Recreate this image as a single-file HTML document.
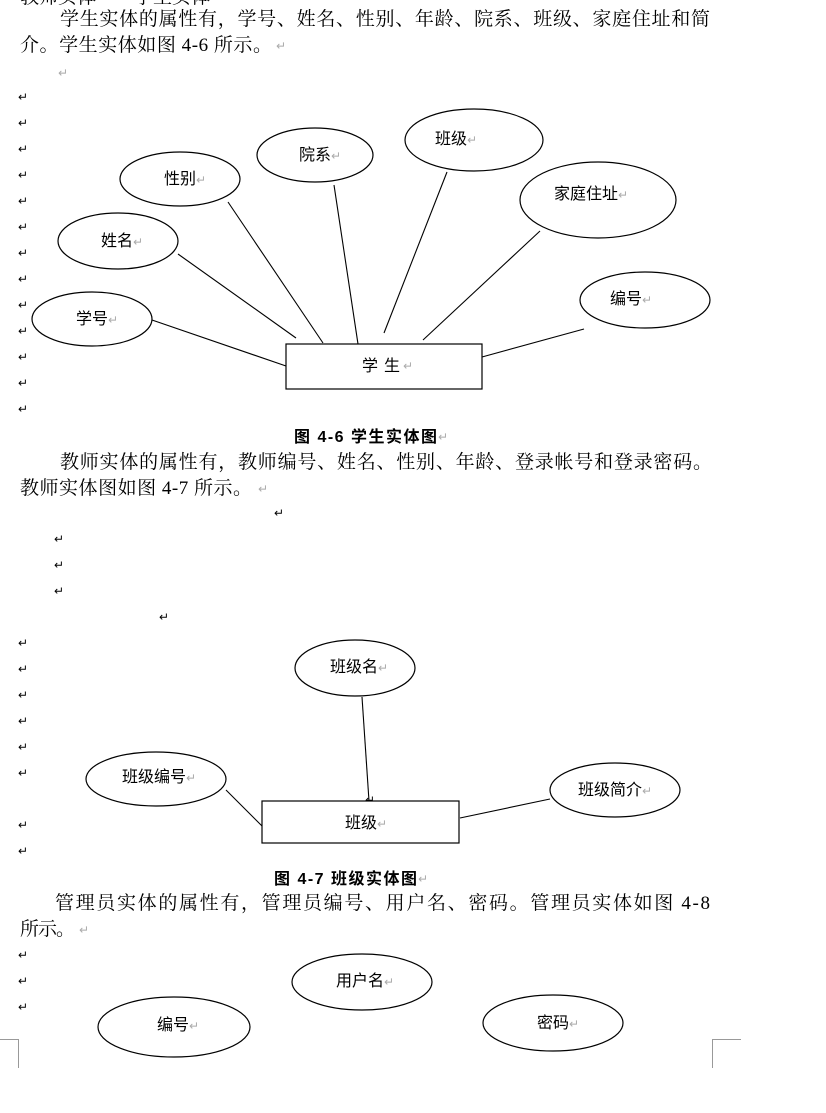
<!DOCTYPE html>
<html><head><meta charset="utf-8"><style>
html,body{margin:0;padding:0;background:#fff;width:826px;height:1113px;overflow:hidden}
svg{display:block}
text{font-family:"Liberation Serif","Noto Serif CJK SC","Noto Sans CJK SC",serif;fill:#000}
.p{font-size:19px}
.l{font-size:16px;font-family:"Liberation Sans","Noto Sans CJK SC",sans-serif}
.r{fill:#aaa;font-size:12px;font-family:"DejaVu Sans",sans-serif;font-weight:normal}
.c{font-size:16px;font-family:"Liberation Sans","Noto Sans CJK SC",sans-serif;font-weight:bold}
ellipse,rect{fill:#fff;stroke:#000;stroke-width:1.2}
line{stroke:#000;stroke-width:1.1}
.m{stroke:#999;stroke-width:1;fill:none}
</style></head><body>
<svg width="826" height="1113" viewBox="0 0 826 1113" xmlns="http://www.w3.org/2000/svg">
<text class="p" x="20" y="3">教师实体——学生实体</text>
<text class="p" x="60" y="25" textLength="650" lengthAdjust="spacing">学生实体的属性有，学号、姓名、性别、年龄、院系、班级、家庭住址和简</text>
<text class="p" x="20" y="51" textLength="252" lengthAdjust="spacing">介。学生实体如图 4-6 所示。</text><text class="r" x="276" y="50">↵</text>
<text class="r" x="58" y="77">↵</text>
<g class="r">
<text x="18" y="101">↵</text><text x="18" y="127">↵</text><text x="18" y="153">↵</text><text x="18" y="179">↵</text><text x="18" y="205">↵</text><text x="18" y="231">↵</text><text x="18" y="257">↵</text><text x="18" y="283">↵</text><text x="18" y="309">↵</text><text x="18" y="335">↵</text><text x="18" y="361">↵</text><text x="18" y="387">↵</text><text x="18" y="413">↵</text>
</g>
<line x1="152" y1="320" x2="286" y2="366"/>
<line x1="178" y1="254" x2="296" y2="338"/>
<line x1="228" y1="202" x2="323" y2="343"/>
<line x1="334" y1="185" x2="358" y2="344"/>
<line x1="447" y1="172" x2="384" y2="333"/>
<line x1="540" y1="231" x2="423" y2="340"/>
<line x1="584" y1="329" x2="482" y2="357"/>
<ellipse cx="92" cy="319" rx="60" ry="27"/><text class="l" x="76" y="324">学号<tspan class="r">↵</tspan></text>
<ellipse cx="118" cy="241" rx="60" ry="28"/><text class="l" x="101" y="246">姓名<tspan class="r">↵</tspan></text>
<ellipse cx="180" cy="179" rx="60" ry="27"/><text class="l" x="164" y="184">性别<tspan class="r">↵</tspan></text>
<ellipse cx="315" cy="155" rx="58" ry="27"/><text class="l" x="299" y="160">院系<tspan class="r">↵</tspan></text>
<ellipse cx="474" cy="140" rx="69" ry="31"/><text class="l" x="435" y="144">班级<tspan class="r">↵</tspan></text>
<ellipse cx="598" cy="200" rx="78" ry="38"/><text class="l" x="554" y="199">家庭住址<tspan class="r">↵</tspan></text>
<ellipse cx="645" cy="300" rx="65" ry="28"/><text class="l" x="610" y="304">编号<tspan class="r">↵</tspan></text>
<rect x="286" y="344" width="196" height="45"/><text class="l" x="362" y="371" textLength="38" lengthAdjust="spacing">学 生</text><text class="r" x="403" y="370">↵</text>
<text class="c" x="294" y="442" textLength="143" lengthAdjust="spacing">图 4-6  学生实体图</text><text class="r" x="438" y="441">↵</text>
<text class="p" x="60" y="468" textLength="652" lengthAdjust="spacing">教师实体的属性有，教师编号、姓名、性别、年龄、登录帐号和登录密码。</text>
<text class="p" x="20" y="494" textLength="232" lengthAdjust="spacing">教师实体图如图 4-7 所示。</text><text class="r" x="258" y="493">↵</text>
<g class="r">
<text x="274" y="517">↵</text><text x="54" y="543">↵</text><text x="54" y="569">↵</text><text x="54" y="595">↵</text><text x="159" y="621">↵</text>
<text x="18" y="647">↵</text><text x="18" y="673">↵</text><text x="18" y="699">↵</text><text x="18" y="725">↵</text><text x="18" y="751">↵</text><text x="18" y="777">↵</text><text x="18" y="829">↵</text><text x="18" y="855">↵</text>
<text x="365" y="804">↵</text>
</g>
<line x1="362" y1="697" x2="369" y2="801"/>
<line x1="226" y1="790" x2="262" y2="826"/>
<line x1="460" y1="818" x2="550" y2="799"/>
<ellipse cx="355" cy="668" rx="60" ry="28"/><text class="l" x="330" y="672">班级名<tspan class="r">↵</tspan></text>
<ellipse cx="156" cy="779" rx="70" ry="27"/><text class="l" x="122" y="782">班级编号<tspan class="r">↵</tspan></text>
<ellipse cx="615" cy="790" rx="65" ry="27"/><text class="l" x="578" y="795">班级简介<tspan class="r">↵</tspan></text>
<rect x="262" y="801" width="197" height="42"/><text class="l" x="345" y="828">班级<tspan class="r">↵</tspan></text>
<text class="c" x="274" y="884" textLength="143" lengthAdjust="spacing">图 4-7  班级实体图</text><text class="r" x="418" y="883">↵</text>
<text class="p" x="55" y="909" textLength="655" lengthAdjust="spacing">管理员实体的属性有，管理员编号、用户名、密码。管理员实体如图 4-8</text>
<text class="p" x="20" y="935" textLength="55" lengthAdjust="spacing">所示。</text><text class="r" x="79" y="934">↵</text>
<g class="r"><text x="18" y="959">↵</text><text x="18" y="985">↵</text><text x="18" y="1011">↵</text></g>
<ellipse cx="362" cy="982" rx="70" ry="28"/><text class="l" x="336" y="986">用户名<tspan class="r">↵</tspan></text>
<ellipse cx="174" cy="1027" rx="76" ry="30"/><text class="l" x="157" y="1030">编号<tspan class="r">↵</tspan></text>
<ellipse cx="553" cy="1023" rx="70" ry="28"/><text class="l" x="537" y="1028">密码<tspan class="r">↵</tspan></text>
<path class="m" d="M0 1039.5 H18.5 V1068"/>
<path class="m" d="M741 1039.5 H712.5 V1068"/>
</svg>
</body></html>
